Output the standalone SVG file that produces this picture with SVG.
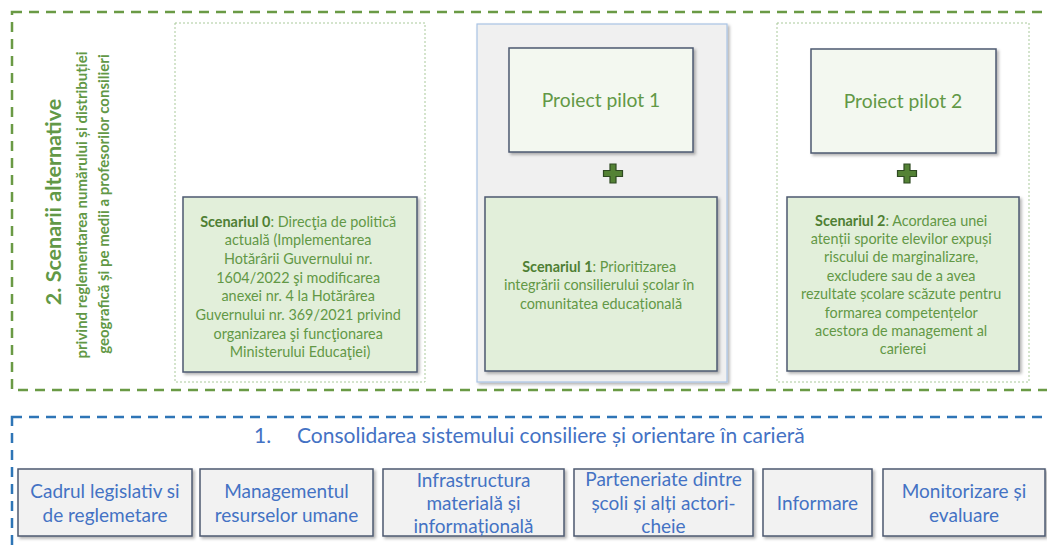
<svg xmlns="http://www.w3.org/2000/svg" width="1047" height="546" viewBox="0 0 1047 546">
  <defs>
    <filter id="sh" x="-10%" y="-10%" width="125%" height="125%">
      <feDropShadow dx="2" dy="2" stdDeviation="1.5" flood-color="#000" flood-opacity="0.3"/>
    </filter>
  </defs>
  <style>
    .gdash{fill:none;stroke:#6a9a45;stroke-width:2.5;stroke-dasharray:10 7}
    .bdash{fill:none;stroke:#2e75b6;stroke-width:2.5;stroke-dasharray:10 7}
    .dot{fill:none;stroke:#a9c99a;stroke-width:1;stroke-dasharray:2 2}
    .scen{fill:#e2efda;stroke:#4d5a70;stroke-width:1.5;filter:url(#sh)}
    .pilot{fill:#f3f8f0;stroke:#4d5a70;stroke-width:1.5;filter:url(#sh)}
    .item{fill:#f2f2f2;stroke:#4d5a70;stroke-width:1.5;filter:url(#sh)}
    .gt{font-family:Lato,"Liberation Sans",sans-serif;fill:#629846;text-anchor:middle}
    .st{font-family:Lato,"Liberation Sans",sans-serif;font-size:14.4px;fill:#629846;text-anchor:middle}
    .st tspan.b{font-weight:bold;fill:#4f7f34}
    .bt{font-family:Lato,"Liberation Sans",sans-serif;font-size:19px;fill:#4472c4;text-anchor:middle}
    .plus{fill:#548235;stroke:#2f4a22;stroke-width:1.2}
  </style>

  <g id="scenarii-frame">
    <rect class="gdash" x="12" y="12" width="1060" height="378"/>
    <text class="gt" transform="translate(61,202) rotate(-90)" font-size="21.5" font-weight="bold">2. Scenarii alternative</text>
    <text class="gt" transform="translate(87,205) rotate(-90)" font-size="15" font-weight="bold">privind reglementarea numărului și distribuției</text>
    <text class="gt" transform="translate(109,204) rotate(-90)" font-size="15" font-weight="bold">geografică și pe medii a profesorilor consilieri</text>
  </g>

  <g id="column-0">
    <rect class="dot" x="175" y="23" width="250" height="359"/>
  </g>
  <g id="scenariul-0">
    <rect class="scen" x="183" y="197" width="234" height="175"/>
    <text class="st">
      <tspan x="300" y="226.5"><tspan class="b">Scenariul 0</tspan>: Direcţia de politică</tspan>
      <tspan x="300" y="245.2">actuală (Implementarea</tspan>
      <tspan x="300" y="263.9">Hotărârii Guvernului nr.</tspan>
      <tspan x="300" y="282.6">1604/2022 şi modificarea</tspan>
      <tspan x="300" y="301.3">anexei nr. 4 la Hotărârea</tspan>
      <tspan x="300" y="320">Guvernului nr. 369/2021 privind</tspan>
      <tspan x="300" y="338.7">organizarea şi funcţionarea</tspan>
      <tspan x="300" y="357.4">Ministerului Educaţiei)</tspan>
    </text>
  </g>

  <g id="column-1">
    <rect x="477" y="24" width="250" height="358" fill="#f0f0f0" stroke="#a9c4e4" stroke-width="1.2" filter="url(#sh)"/>
  </g>
  <g id="proiect-pilot-1">
    <rect class="pilot" x="509" y="48" width="184" height="104"/>
    <text class="gt" x="601" y="106.5" font-size="19.3">Proiect pilot 1</text>
  </g>
  <g id="plus-1">
    <path class="plus" d="M610,164h6v6.5h6.5v6h-6.5v6.5h-6v-6.5h-6.5v-6h6.5z"/>
  </g>
  <g id="scenariul-1">
    <rect class="scen" x="485" y="197" width="232" height="174"/>
    <text class="st">
      <tspan x="601" y="271.5"><tspan class="b">Scenariul 1</tspan>: Prioritizarea</tspan>
      <tspan x="601" y="290.2">integrării consilierului școlar în</tspan>
      <tspan x="601" y="308.9">comunitatea educațională</tspan>
    </text>
  </g>

  <g id="column-2">
    <rect class="dot" x="777" y="23" width="252" height="359"/>
  </g>
  <g id="proiect-pilot-2">
    <rect class="pilot" x="811" y="49" width="185" height="104"/>
    <text class="gt" x="903" y="107.5" font-size="19.3">Proiect pilot 2</text>
  </g>
  <g id="plus-2">
    <path class="plus" d="M904,164h6v6.5h6.5v6h-6.5v6.5h-6v-6.5h-6.5v-6h6.5z"/>
  </g>
  <g id="scenariul-2">
    <rect class="scen" x="787" y="197" width="232" height="174"/>
    <text class="st">
      <tspan x="903" y="225.5"><tspan class="b">Scenariul 2</tspan>: Acordarea unei</tspan>
      <tspan x="903" y="243.9">atenții sporite elevilor expuși</tspan>
      <tspan x="903" y="262.3">riscului de marginalizare,</tspan>
      <tspan x="903" y="280.7">excludere sau de a avea</tspan>
      <tspan x="903" y="299.1">rezultate școlare scăzute pentru</tspan>
      <tspan x="903" y="317.5">formarea competențelor</tspan>
      <tspan x="903" y="335.9">acestora de management al</tspan>
      <tspan x="903" y="354.3">carierei</tspan>
    </text>
  </g>

  <g id="consolidarea-frame">
    <rect class="bdash" x="12" y="417" width="1060" height="160"/>
    <text font-family="Lato,'Liberation Sans',sans-serif" font-size="21" fill="#4472c4" x="254" y="443">1.</text>
    <text font-family="Lato,'Liberation Sans',sans-serif" font-size="21" fill="#4472c4" x="297" y="443">Consolidarea sistemului consiliere și orientare în carieră</text>
  </g>

  <g id="cadrul-legislativ">
    <rect class="item" x="18" y="469" width="174" height="67"/>
    <text class="bt"><tspan x="105" y="498">Cadrul legislativ si</tspan><tspan x="105" y="522">de reglemetare</tspan></text>
  </g>
  <g id="managementul">
    <rect class="item" x="200" y="469" width="173" height="67"/>
    <text class="bt"><tspan x="286.5" y="498">Managementul</tspan><tspan x="286.5" y="522">resurselor umane</tspan></text>
  </g>
  <g id="infrastructura">
    <rect class="item" x="383" y="469" width="181" height="67"/>
    <text class="bt"><tspan x="473.5" y="487">Infrastructura</tspan><tspan x="473.5" y="510">materială și</tspan><tspan x="473.5" y="533">informațională</tspan></text>
  </g>
  <g id="parteneriate">
    <rect class="item" x="574" y="469" width="179" height="67"/>
    <text class="bt"><tspan x="663.5" y="486">Parteneriate dintre</tspan><tspan x="663.5" y="510">școli și alți actori-</tspan><tspan x="663.5" y="533">cheie</tspan></text>
  </g>
  <g id="informare">
    <rect class="item" x="763" y="469" width="109" height="67"/>
    <text class="bt" x="817.5" y="510">Informare</text>
  </g>
  <g id="monitorizare">
    <rect class="item" x="883" y="469" width="162" height="67"/>
    <text class="bt"><tspan x="964" y="498">Monitorizare și</tspan><tspan x="964" y="522">evaluare</tspan></text>
  </g>
</svg>
